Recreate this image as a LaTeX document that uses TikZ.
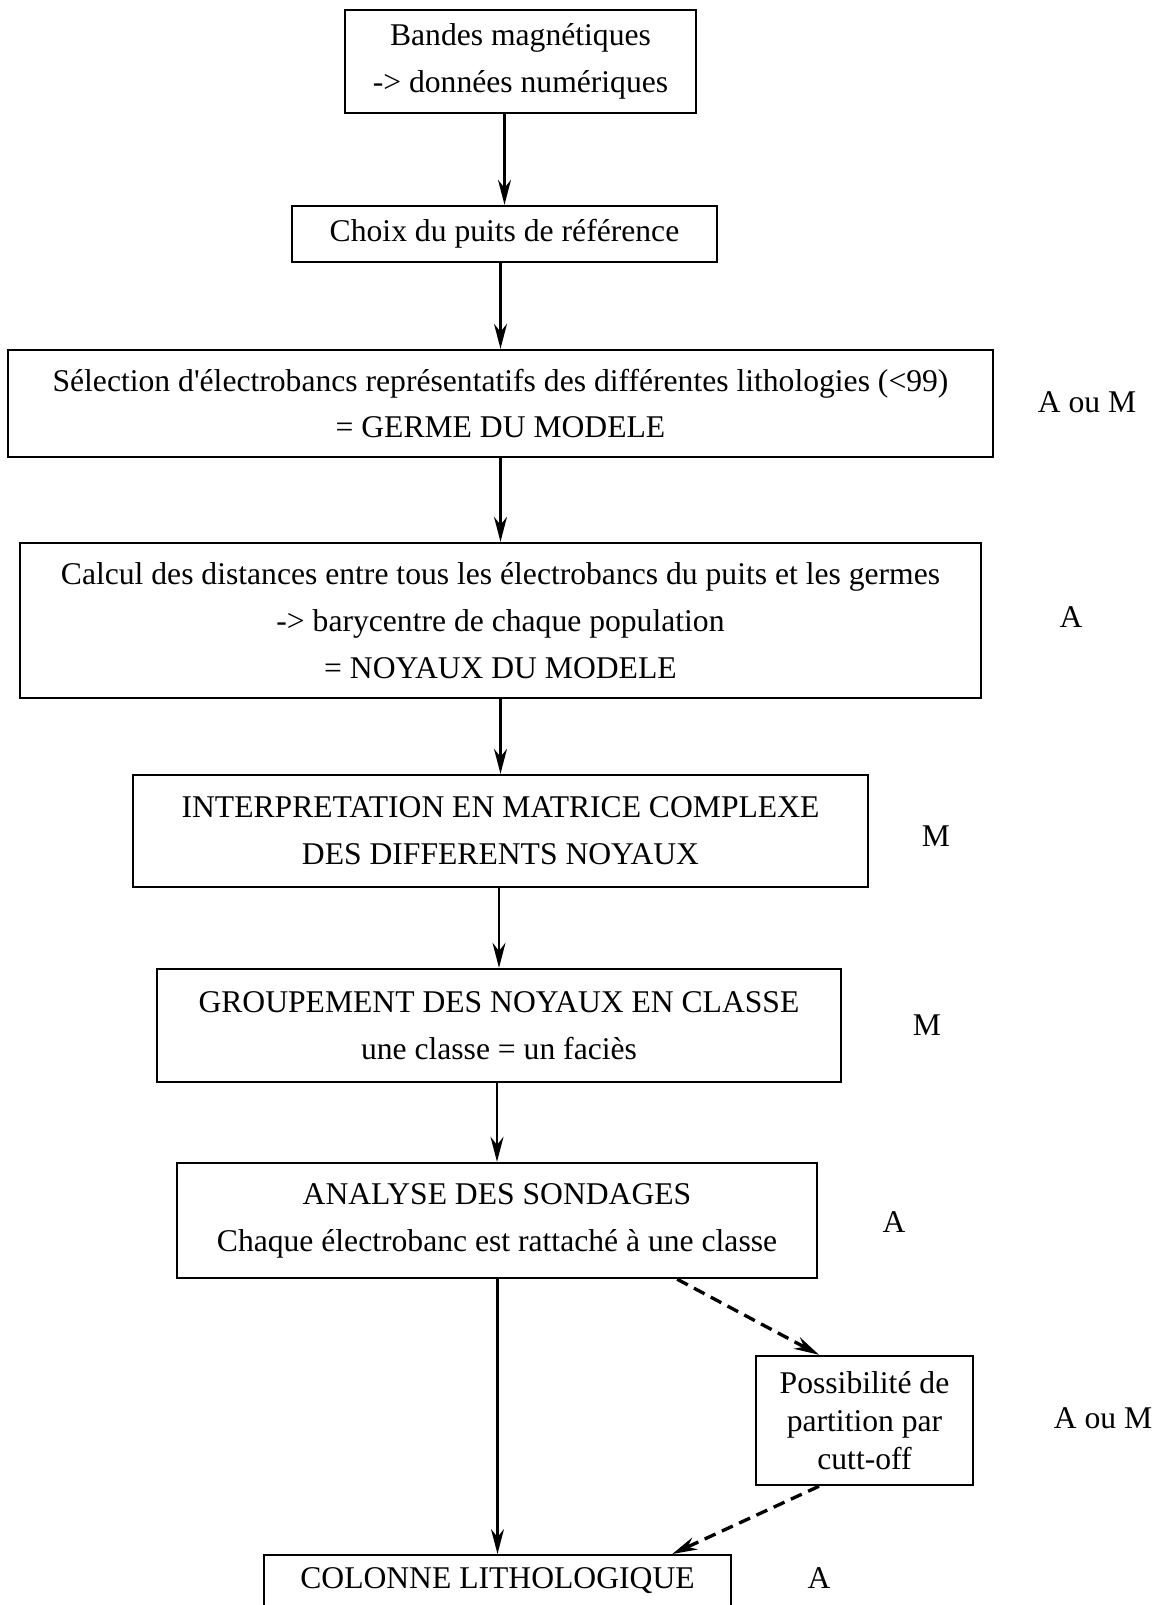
\documentclass[tikz,border=0pt]{standalone}
\usepackage{fontspec}
\setmainfont{Liberation Serif}
\usetikzlibrary{arrows.meta,calc}
\begin{document}
\begin{tikzpicture}[x=0.02cm,y=-0.02cm,
	box/.style={draw,line width=1.4pt,align=center,inner sep=4pt,
		font=\fontsize{18}{26.7}\selectfont},
	lab/.style={font=\fontsize{18}{22}\selectfont},
	fleche/.style={line width=1.3pt,-{Stealth[length=5mm,width=2.6mm]}},
	tirets/.style={fleche,line width=1.9pt,dash pattern=on 0.24cm off 0.14cm}]
	\useasboundingbox (0,0) rectangle (1156,1605);
	\clip (0,0) rectangle (1156,1605);
	% les étapes
	\node[box,minimum width=7.02cm,minimum height=2.06cm] (b1) at (520.5,61.5)
		{Bandes magnétiques\\-> données numériques};
	\node[box,minimum width=8.5cm,minimum height=1.12cm] (b2) at (504.5,234)
		{Choix du puits de référence};
	\node[box,minimum width=19.7cm,minimum height=2.14cm] (b3) at (500.5,403.5)
		{Sélection d\textquotesingle électrobancs représentatifs des différentes lithologies (<99)\\= GERME DU MODELE};
	\node[box,minimum width=19.22cm,minimum height=3.1cm] (b4) at (500.5,620.5)
		{Calcul des distances entre tous les électrobancs du puits et les germes\\-> barycentre de chaque population\\= NOYAUX DU MODELE};
	\node[box,minimum width=14.7cm,minimum height=2.24cm] (b5) at (500.5,831)
		{INTERPRETATION EN MATRICE COMPLEXE\\DES DIFFERENTS NOYAUX};
	\node[box,minimum width=13.68cm,minimum height=2.26cm] (b6) at (499,1025.5)
		{GROUPEMENT DES NOYAUX EN CLASSE\\une classe = un faciès};
	\node[box,minimum width=12.8cm,minimum height=2.3cm] (b7) at (497,1220.5)
		{ANALYSE DES SONDAGES\\Chaque électrobanc est rattaché à une classe};
	\node[box,minimum width=4.34cm,minimum height=2.58cm,font=\fontsize{18}{21.5}\selectfont] (b8) at (864.5,1420.5)
		{Possibilité de\\partition par\\cutt-off};
	\node[box,anchor=north,minimum width=9.34cm,inner ysep=0.25cm,text depth=1.4cm] (b9) at (497.5,1554)
		{COLONNE LITHOLOGIQUE};
	% A = automatique, M = manuel
	\node[lab] (m3) at (1087,402) {A ou M};
	\node[lab] (m4) at (1071,617) {A};
	\node[lab] (m5) at (936,836) {M};
	\node[lab] (m6) at (927,1025) {M};
	\node[lab] (m7) at (894,1222) {A};
	\node[lab] (m8) at (1103,1418) {A ou M};
	\node[lab] (m9) at (819,1578) {A};
	% flèches
	\draw[fleche] (b1.south -| b2.north) -- (b2.north);
	\draw[fleche] (b2.south -| b3.north) -- (b3.north);
	\draw[fleche] (b3.south -| b4.north) -- (b4.north);
	\draw[fleche] (b4.south -| b5.north) -- (b5.north);
	\draw[fleche] (b5.south -| b6.north) -- (b6.north);
	\draw[fleche] (b6.south -| b7.north) -- (b7.north);
	\draw[fleche] (b7.south -| b9.north) -- (b9.north);
	\draw[tirets] ([xshift=-2.82cm]b7.south east) -- ([xshift=-0.91cm]b8.north);
	\draw[tirets] ([xshift=-0.91cm]b8.south) -- ([xshift=-1.2cm]b9.north east);
\end{tikzpicture}
\end{document}
